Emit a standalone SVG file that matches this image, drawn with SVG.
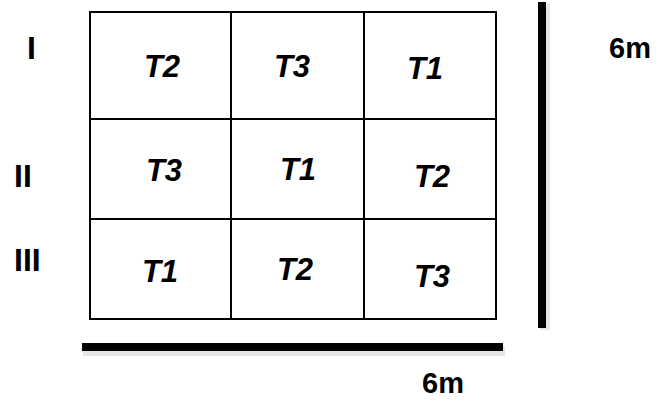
<svg xmlns="http://www.w3.org/2000/svg" width="659" height="403" viewBox="0 0 659 403">
<style>
.t{font-family:"Liberation Sans",Arial,sans-serif;font-weight:bold;font-style:italic;font-size:31px;fill:#000;text-anchor:middle}
.r{font-family:"Liberation Sans",Arial,sans-serif;font-weight:bold;font-size:32px;fill:#000}
.m{font-family:"Liberation Sans",Arial,sans-serif;font-weight:bold;font-size:29px;fill:#000}
.g{fill:none;stroke:#000;stroke-width:2}
</style>
<rect width="659" height="403" fill="#fff"/>
<g id="grid">
<rect class="g" x="90" y="12" width="406" height="307"/>
<line class="g" x1="231" y1="12" x2="231" y2="319"/>
<line class="g" x1="364" y1="12" x2="364" y2="319"/>
<line class="g" x1="90" y1="119" x2="496" y2="119"/>
<line class="g" x1="90" y1="219" x2="496" y2="219"/>
</g>
<g id="cells">
<text class="t" x="162" y="77">T2</text>
<text class="t" x="292" y="77">T3</text>
<text class="t" x="425" y="79">T1</text>
<text class="t" x="164" y="181">T3</text>
<text class="t" x="298" y="180">T1</text>
<text class="t" x="432" y="187">T2</text>
<text class="t" x="160" y="282">T1</text>
<text class="t" x="295" y="280">T2</text>
<text class="t" x="432" y="287">T3</text>
</g>
<g id="rows">
<text class="r" x="27" y="59">I</text>
<text class="r" x="14" y="187">II</text>
<text class="r" x="14" y="271">III</text>
</g>
<g id="scale-vertical">
<rect x="540" y="3" width="10" height="327" fill="#e6e6e6"/>
<rect x="538" y="2" width="8" height="326" fill="#000"/>
<text class="m" x="609" y="58">6m</text>
</g>
<g id="scale-horizontal">
<rect x="83" y="346" width="422" height="10" fill="#e6e6e6"/>
<rect x="82" y="343" width="421" height="8" fill="#000"/>
<text class="m" x="422" y="393">6m</text>
</g>
</svg>
